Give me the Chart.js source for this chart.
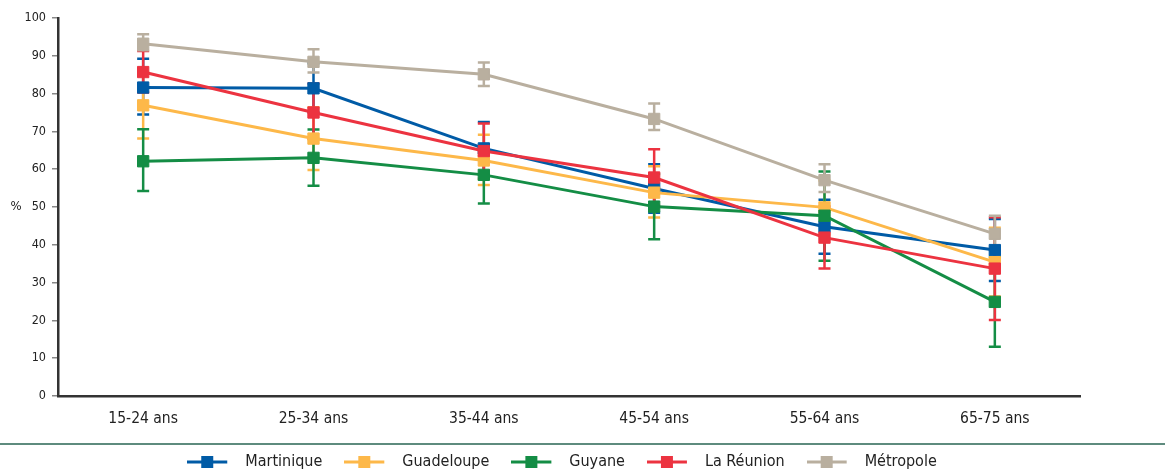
<!DOCTYPE html>
<html>
<head>
<meta charset="utf-8">
<script src="https://cdn.jsdelivr.net/npm/chart.js@4.4.1/dist/chart.umd.min.js"></script>
<style>
  html, body { margin: 0; padding: 0; background: #fff; }
  #wrap { width: 1170px; height: 473px; }
</style>
</head>
<body>
<div id="wrap"><canvas id="chart" width="1170" height="473"></canvas></div>
<script>
// age groups on the x axis
const ageGroups = ['15-24 ans', '25-34 ans', '35-44 ans', '45-54 ans', '55-64 ans', '65-75 ans']
const yTicks = [0, 10, 20, 30, 40, 50, 60, 70, 80, 90, 100]

// values in %, with low / high of the error bars
const martinique = [81.6, 81.4, 65.5, 54.9, 44.8, 38.6]
const martiniqueLow = [74.5, 75.0, 58.5, 48.5, 37.6, 30.4]
const martiniqueHigh = [89.2, 88.0, 72.5, 61.3, 51.9, 46.8]

const guadeloupe = [76.9, 68.1, 62.3, 53.8, 49.9, 35.4]
const guadeloupeLow = [68.1, 59.8, 55.8, 47.2, 42.8, 26.3]
const guadeloupeHigh = [85.7, 76.4, 69.1, 60.8, 57.0, 44.5]

const guyane = [62.1, 63.0, 58.5, 50.1, 47.7, 24.9]
const guyaneLow = [54.2, 55.6, 50.9, 41.5, 35.8, 13.0]
const guyaneHigh = [70.6, 70.5, 66.1, 58.7, 59.4, 36.8]

const reunion = [85.7, 75.0, 64.8, 57.8, 41.9, 33.7]
const reunionLow = [80.3, 68.0, 57.5, 50.3, 33.7, 20.1]
const reunionHigh = [91.3, 82.7, 72.1, 65.3, 50.1, 47.3]

const metropole = [93.2, 88.4, 85.1, 73.3, 57.1, 42.9]
const metropoleLow = [91.5, 85.6, 82.0, 70.4, 54.0, 38.5]
const metropoleHigh = [95.7, 91.7, 88.2, 77.4, 61.3, 47.7]

const seriesNames = ['Martinique', 'Guadeloupe', 'Guyane', 'La Réunion', 'Métropole']
const seriesColors = ['#005ba6', '#fdb849', '#148d45', '#ec3340', '#b9af9f']
const seriesValues = [martinique, guadeloupe, guyane, reunion, metropole]
const seriesLow = [martiniqueLow, guadeloupeLow, guyaneLow, reunionLow, metropoleLow]
const seriesHigh = [martiniqueHigh, guadeloupeHigh, guyaneHigh, reunionHigh, metropoleHigh]

const cond = '"DejaVu Sans Condensed", "Liberation Sans Narrow", sans-serif'

// legend symbol: short line with a square in the middle
function legendSymbol(color) {
  const c = document.createElement('canvas')
  c.width = 50
  c.height = 14
  const g = c.getContext('2d')
  g.strokeStyle = color
  g.lineWidth = 3
  g.beginPath()
  g.moveTo(0, 7)
  g.lineTo(40, 7)
  g.stroke()
  g.fillStyle = color
  g.fillRect(14, 1, 12, 12)
  return c
}

const datasets = seriesNames.map((name, i) => ({
  label: name,
  data: seriesValues[i],
  low: seriesLow[i],
  high: seriesHigh[i],
  borderColor: seriesColors[i],
  backgroundColor: seriesColors[i],
  borderWidth: 3,
  pointStyle: 'rect',
  pointRadius: 8,
  pointBorderWidth: 1,
  pointHoverRadius: 8,
  tension: 0,
  order: seriesNames.length - 1 - i // later series drawn on top
}))

// error bars, drawn under the lines
const errorBars = {
  id: 'errorBars',
  afterLayout(chart) {
    // legend is centred a bit right of the plot in the original
    chart.legend.left += 22
    chart.legend.right += 22
  },
  beforeDatasetsDraw(chart) {
    const ctx = chart.ctx
    const y = chart.scales.y
    ctx.save()
    chart.data.datasets.forEach((ds, i) => {
      const meta = chart.getDatasetMeta(i)
      ctx.strokeStyle = ds.borderColor
      ctx.lineWidth = 2.5
      meta.data.forEach((pt, j) => {
        const top = y.getPixelForValue(ds.high[j])
        const bot = y.getPixelForValue(ds.low[j])
        ctx.beginPath()
        ctx.moveTo(pt.x, top)
        ctx.lineTo(pt.x, bot)
        ctx.moveTo(pt.x - 6, top)
        ctx.lineTo(pt.x + 6, top)
        ctx.moveTo(pt.x - 6, bot)
        ctx.lineTo(pt.x + 6, bot)
        ctx.stroke()
      })
    })
    ctx.restore()
  },
  afterDraw(chart) {
    const ctx = chart.ctx
    ctx.save()
    // "%" unit next to the y axis
    ctx.fillStyle = '#222'
    ctx.font = '13px ' + cond
    ctx.textAlign = 'center'
    ctx.textBaseline = 'middle'
    ctx.fillText('%', 16, chart.scales.y.getPixelForValue(50))
    // separator above the legend
    ctx.strokeStyle = '#5e8b7e'
    ctx.lineWidth = 2
    ctx.beginPath()
    ctx.moveTo(0, chart.legend.top + 12)
    ctx.lineTo(1165, chart.legend.top + 12)
    ctx.stroke()
    ctx.restore()
  }
}

new Chart(document.getElementById('chart'), {
  type: 'line',
  data: { labels: ageGroups, datasets: datasets },
  plugins: [errorBars],
  options: {
    responsive: false,
    devicePixelRatio: 1,
    animation: false,
    layout: { padding: { left: 0, right: 90, top: 18, bottom: -7 } },
    plugins: {
      tooltip: { enabled: false },
      legend: {
        position: 'bottom',
        labels: {
          usePointStyle: true,
          pointStyleWidth: 50,
          padding: 22,
          color: '#222',
          font: { family: cond, size: 16 },
          generateLabels(chart) {
            return chart.data.datasets.map((ds, i) => ({
              text: ds.label,
              fillStyle: ds.borderColor,
              strokeStyle: ds.borderColor,
              fontColor: '#222',
              lineWidth: 0,
              pointStyle: legendSymbol(ds.borderColor),
              hidden: false,
              datasetIndex: i
            }))
          }
        }
      }
    },
    scales: {
      x: {
        offset: true,
        grid: { display: false, drawTicks: false },
        border: { display: true, color: '#333', width: 2.5 },
        ticks: { color: '#222', padding: 14, font: { family: cond, size: 15.5 } },
        afterFit(s) { s.height = 36 }
      },
      y: {
        min: 0,
        max: 100,
        afterBuildTicks(s) { s.ticks = yTicks.map(v => ({ value: v })) },
        grid: { drawOnChartArea: false, drawTicks: true, tickLength: 6, color: '#888', lineWidth: 1.5 },
        border: { display: true, color: '#333', width: 2.5 },
        ticks: { color: '#222', padding: 6, font: { family: cond, size: 12.5 } },
        afterFit(s) { s.width = 58 }
      }
    }
  }
})
</script>
</body>
</html>
